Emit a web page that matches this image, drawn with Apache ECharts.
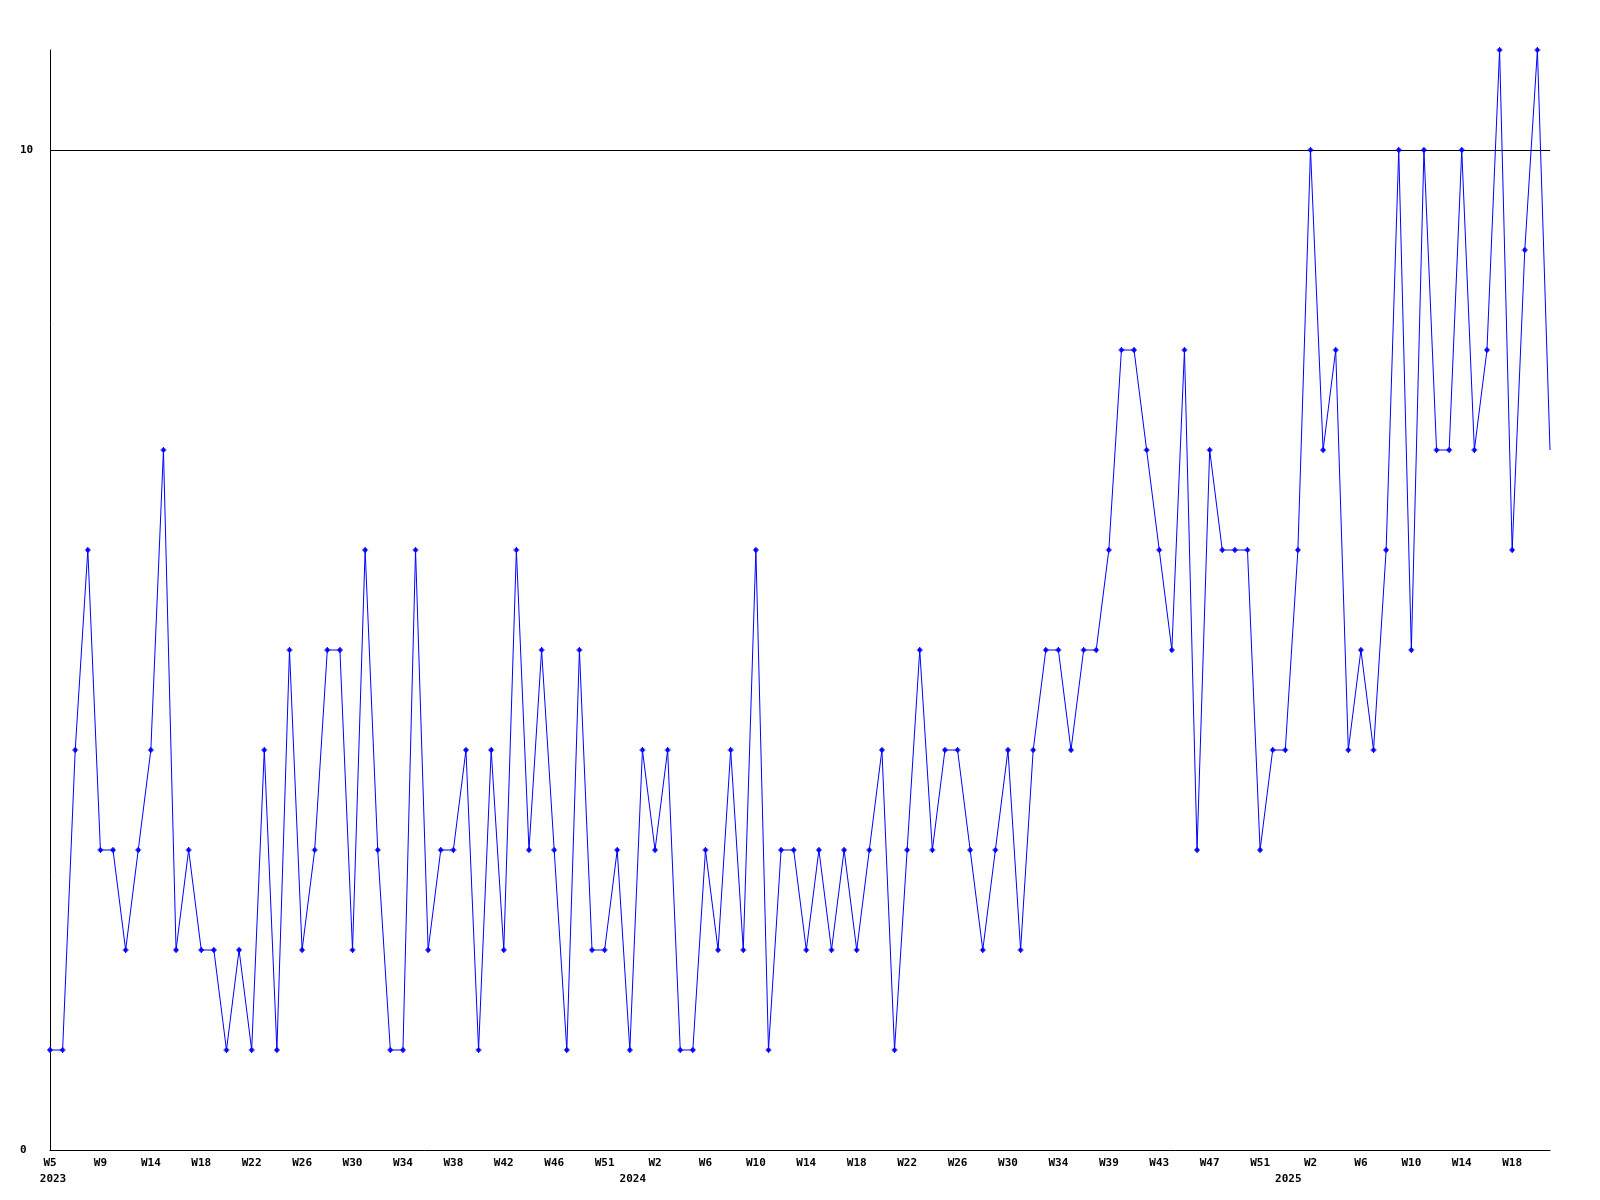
<!DOCTYPE html>
<html>
<head>
<meta charset="utf-8">
<script src="https://cdn.jsdelivr.net/npm/echarts@6/dist/echarts.min.js"></script>
<style>html,body{margin:0;padding:0;background:#fff}#c{width:1600px;height:1200px}</style>
</head>
<body>
<div id="c"></div>
<script>
// Weekly values, 2023 W5 .. 2025 W21
var values = [
  1,1,4,6,3,3,2,3,4,7,
  2,3,2,2,1,2,1,4,1,5,
  2,3,5,5,2,6,3,1,1,6,
  2,3,3,4,1,4,2,6,3,5,
  3,1,5,2,2,3,1,4,3,4,
  1,1,3,2,4,2,6,1,3,3,
  2,3,2,3,2,3,4,1,3,5,
  3,4,4,3,2,3,4,2,4,5,
  5,4,5,5,6,8,8,7,6,5,
  8,3,7,6,6,6,3,4,4,6,
  10,7,8,4,5,4,6,10,5,10,
  7,7,10,7,8,11,6,9,11,7
];
// Week tick labels, one per 4 points
var weekTicks = ['W5','W9','W14','W18','W22','W26','W30','W34','W38','W42','W46','W51',
  'W2','W6','W10','W14','W18','W22','W26','W30','W34','W39','W43','W47','W51',
  'W2','W6','W10','W14','W18'];
// Year labels and the point index under which each sits
var yearTicks = ['2023','2024','2025'];
var yearTickIndex = [0, 46, 98];

var categories = values.map(function (v, i) { return String(i); });
var seriesData = values.map(function (v, i) {
  return i === values.length - 1 ? { value: v, symbol: 'none' } : v;
});

var font = { fontFamily: 'DejaVu Sans Mono', fontSize: 11, fontWeight: 'bold', color: '#000' };

var chart = echarts.init(document.getElementById('c'), null, { renderer: 'canvas' });
chart.setOption({
  animation: false,
  backgroundColor: '#fff',
  grid: { left: 50, right: 50, top: 50, bottom: 50, containLabel: false },
  xAxis: [{
    type: 'category',
    data: categories,
    boundaryGap: false,
    axisLine: { lineStyle: { color: '#000', width: 1 } },
    axisTick: { show: false },
    splitLine: { show: false },
    axisLabel: Object.assign({
      interval: 3,
      margin: 8,
      formatter: function (v, i) { return i % 4 === 0 ? weekTicks[i / 4] : ''; }
    }, font)
  }, {
    type: 'category',
    data: categories,
    boundaryGap: false,
    position: 'bottom',
    offset: 16,
    axisLine: { show: false },
    axisTick: { show: false },
    splitLine: { show: false },
    axisLabel: Object.assign({
      interval: 0,
      margin: 8,
      padding: [0, 0, 0, 6],
      formatter: function (v, i) { var k = yearTickIndex.indexOf(i); return k >= 0 ? yearTicks[k] : ''; }
    }, font)
  }],
  yAxis: {
    type: 'value',
    min: 0,
    max: 11,
    interval: 10,
    axisLine: { show: true, lineStyle: { color: '#000', width: 1 } },
    axisTick: { show: false },
    splitLine: { show: true, showMinLine: false, showMaxLine: false, lineStyle: { color: '#000', width: 1 } },
    axisLabel: Object.assign({
      margin: 30,
      align: 'left',
      showMaxLabel: false,
      formatter: function (v) { return v === 11 ? '' : String(v); }
    }, font)
  },
  series: [{
    type: 'line',
    data: seriesData,
    xAxisIndex: 0,
    symbol: 'path://M2,0H3V1H4V2H5V3H4V4H3V5H2V4H1V3H0V2H1V1H2Z',
    symbolSize: 6,
    symbolKeepAspect: true,
    showAllSymbol: true,
    lineStyle: { color: '#0000ff', width: 1 },
    itemStyle: { color: '#0000ff' },
    emphasis: { disabled: true }
  }]
});
</script>
</body>
</html>
